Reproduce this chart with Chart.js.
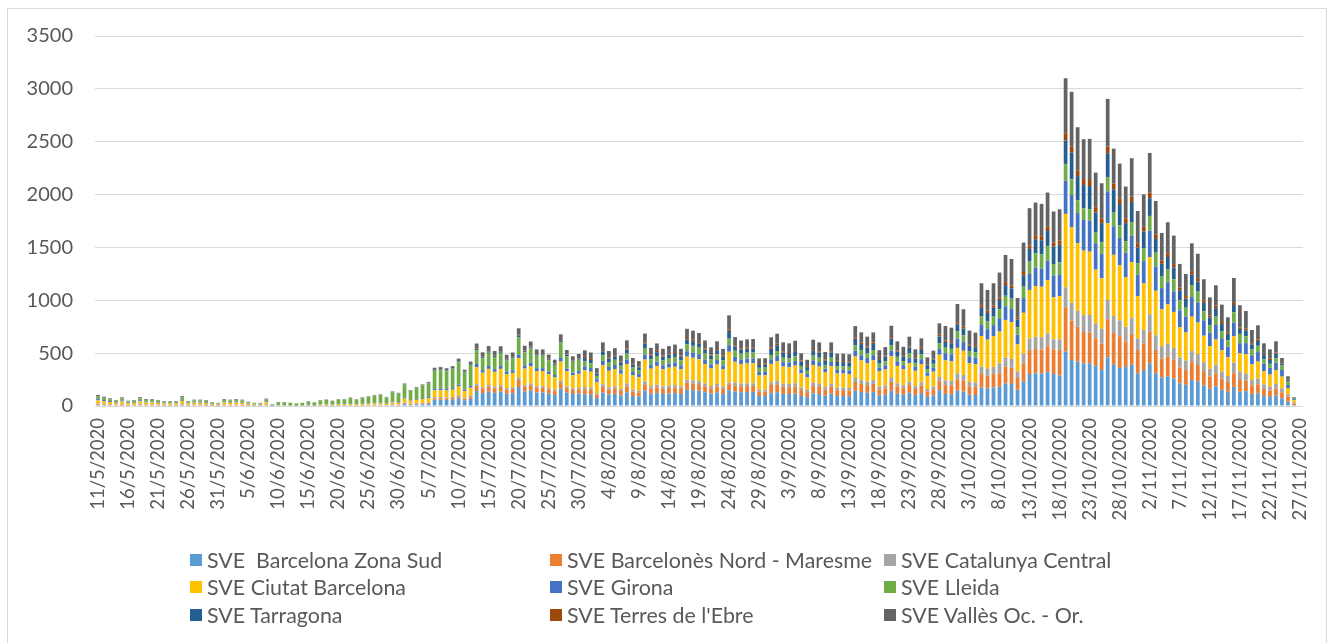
<!DOCTYPE html>
<html><head><meta charset="utf-8">
<script src="https://cdn.jsdelivr.net/npm/chart.js@4/dist/chart.umd.min.js"></script>
<style>
html,body{margin:0;padding:0;background:#fff;}
#wrap{position:relative;width:1335px;height:643px;overflow:hidden;}
#frame{position:absolute;left:7px;top:8px;width:1320px;height:660px;border:1px solid #D9D9D9;box-sizing:border-box;}
#c{position:absolute;left:0;top:0;}
.item{position:absolute;display:flex;align-items:center;white-space:pre;font-family:Lato,sans-serif;font-size:21.4px;color:#595959;line-height:24px;}
.sw{width:12px;height:12px;margin-right:5px;flex:none;}
</style></head>
<body><div id="wrap"><div id="frame"></div><canvas id="c" width="1335" height="643"></canvas><div id="legend"></div></div>
<script>
const categories = [
"11/5/2020","12/5/2020","13/5/2020","14/5/2020","15/5/2020","16/5/2020","17/5/2020","18/5/2020","19/5/2020","20/5/2020","21/5/2020","22/5/2020","23/5/2020","24/5/2020","25/5/2020","26/5/2020","27/5/2020","28/5/2020","29/5/2020","30/5/2020","31/5/2020",
"1/6/2020","2/6/2020","3/6/2020","4/6/2020","5/6/2020","6/6/2020","7/6/2020","8/6/2020","9/6/2020","10/6/2020","11/6/2020","12/6/2020","13/6/2020","14/6/2020","15/6/2020","16/6/2020","17/6/2020","18/6/2020","19/6/2020","20/6/2020","21/6/2020","22/6/2020","23/6/2020","24/6/2020","25/6/2020","26/6/2020","27/6/2020","28/6/2020","29/6/2020","30/6/2020",
"1/7/2020","2/7/2020","3/7/2020","4/7/2020","5/7/2020","6/7/2020","7/7/2020","8/7/2020","9/7/2020","10/7/2020","11/7/2020","12/7/2020","13/7/2020","14/7/2020","15/7/2020","16/7/2020","17/7/2020","18/7/2020","19/7/2020","20/7/2020","21/7/2020","22/7/2020","23/7/2020","24/7/2020","25/7/2020","26/7/2020","27/7/2020","28/7/2020","29/7/2020","30/7/2020","31/7/2020",
"1/8/2020","2/8/2020","3/8/2020","4/8/2020","5/8/2020","6/8/2020","7/8/2020","8/8/2020","9/8/2020","10/8/2020","11/8/2020","12/8/2020","13/8/2020","14/8/2020","15/8/2020","16/8/2020","17/8/2020","18/8/2020","19/8/2020","20/8/2020","21/8/2020","22/8/2020","23/8/2020","24/8/2020","25/8/2020","26/8/2020","27/8/2020","28/8/2020","29/8/2020","30/8/2020","31/8/2020",
"1/9/2020","2/9/2020","3/9/2020","4/9/2020","5/9/2020","6/9/2020","7/9/2020","8/9/2020","9/9/2020","10/9/2020","11/9/2020","12/9/2020","13/9/2020","14/9/2020","15/9/2020","16/9/2020","17/9/2020","18/9/2020","19/9/2020","20/9/2020","21/9/2020","22/9/2020","23/9/2020","24/9/2020","25/9/2020","26/9/2020","27/9/2020","28/9/2020","29/9/2020","30/9/2020",
"1/10/2020","2/10/2020","3/10/2020","4/10/2020","5/10/2020","6/10/2020","7/10/2020","8/10/2020","9/10/2020","10/10/2020","11/10/2020","12/10/2020","13/10/2020","14/10/2020","15/10/2020","16/10/2020","17/10/2020","18/10/2020","19/10/2020","20/10/2020","21/10/2020","22/10/2020","23/10/2020","24/10/2020","25/10/2020","26/10/2020","27/10/2020","28/10/2020","29/10/2020","30/10/2020","31/10/2020",
"1/11/2020","2/11/2020","3/11/2020","4/11/2020","5/11/2020","6/11/2020","7/11/2020","8/11/2020","9/11/2020","10/11/2020","11/11/2020","12/11/2020","13/11/2020","14/11/2020","15/11/2020","16/11/2020","17/11/2020","18/11/2020","19/11/2020","20/11/2020","21/11/2020","22/11/2020","23/11/2020","24/11/2020","25/11/2020","26/11/2020","27/11/2020"
];

const seriesNames = ["SVE  Barcelona Zona Sud","SVE Barcelonès Nord - Maresme","SVE Catalunya Central","SVE Ciutat Barcelona","SVE Girona","SVE Lleida","SVE Tarragona","SVE Terres de l'Ebre","SVE Vallès Oc. - Or."];
const seriesColors = ["#5B9BD5","#ED7D31","#A5A5A5","#FFC000","#4472C4","#70AD47","#255E91","#9E480E","#636363"];

const barcelonaZonaSud = [8,7,6,5,7,4,5,7,5,5,5,4,4,4,8,4,5,5,4,3,2,5,5,5,5,3,2,2,6,
1,2,2,2,1,2,2,2,3,3,3,3,3,4,3,4,5,5,6,4,7,6,
17,12,14,16,18,58,59,57,60,72,55,67,
142,122,136,125,136,116,121,180,137,146,128,128,117,105,163,127,113,118,
111,106,75,126,109,115,100,130,95,89,144,116,124,114,119,122,114,153,150,145,130,117,129,113,150,137,130,132,133,95,95,120,
130,114,113,117,95,83,119,114,97,116,94,95,93,144,132,125,132,100,106,144,116,106,125,102,122,87,100,149,
114,111,145,137,107,104,174,165,176,183,214,209,153,232,303,308,306,323,
303,290,514,435,420,400,404,380,340,460,390,360,370,390,310,340,404,
310,270,280,260,215,200,245,233,195,165,183,153,134,180,136,140,115,120,95,86,98,73,41,10,0];

const barcelonesNord = [8,7,6,5,7,4,4,7,5,6,4,4,4,3,7,4,5,5,5,3,2,5,5,5,5,3,2,2,5,
0,1,1,1,1,1,1,1,2,2,1,2,2,2,2,3,3,3,3,3,4,4,
9,6,7,8,9,14,15,14,15,18,14,17,
47,41,45,42,45,39,40,66,46,49,43,43,39,35,54,42,38,39,
47,46,32,54,47,49,43,56,41,38,62,50,53,49,51,52,49,66,64,62,56,50,55,49,56,59,56,57,57,41,41,79,
75,66,65,68,55,48,69,66,56,65,54,55,54,83,77,72,77,58,61,83,67,62,72,59,70,51,58,86,
83,82,106,101,78,76,128,121,126,126,157,153,112,170,227,231,229,242,
233,240,420,372,330,300,290,260,250,360,300,300,240,290,220,250,300,
220,180,190,180,150,140,170,155,135,115,126,105,92,130,110,100,80,85,66,60,67,57,47,15,0];

const catalunyaCentral = [8,7,6,5,6,4,5,7,5,5,5,4,4,4,8,4,5,5,5,3,3,5,5,5,5,3,3,2,6,
1,2,1,1,1,1,2,1,2,2,2,3,3,3,3,3,4,4,4,3,6,5,
6,5,5,6,7,11,11,11,11,13,10,13,
18,15,17,16,17,15,15,22,17,18,16,16,15,13,20,16,14,15,
21,20,14,24,21,22,19,25,18,17,27,22,24,22,23,23,22,29,28,28,25,22,24,22,15,26,25,25,25,18,18,25,
34,30,30,31,25,22,31,30,26,29,25,24,24,38,35,33,35,26,28,38,31,28,33,27,32,23,26,39,
45,44,58,55,43,42,70,66,68,95,86,83,61,93,107,115,115,121,
95,100,189,170,150,160,167,140,140,183,160,150,140,150,110,130,164,
140,115,120,110,95,90,105,104,85,72,80,67,59,100,79,65,50,55,42,38,43,38,25,10,0];

const ciutatBarcelona = [29,25,20,16,23,14,16,24,18,18,16,13,13,13,26,13,17,17,16,10,8,18,16,18,16,11,8,8,19,
2,5,5,4,3,4,5,4,7,7,6,8,8,10,8,10,11,13,13,10,17,15,
38,27,32,37,41,65,66,64,68,81,62,76,
160,137,153,140,153,131,137,184,154,165,144,144,131,118,183,143,127,133,
158,152,107,181,156,164,143,186,136,128,206,165,178,162,170,174,162,219,214,207,186,166,184,162,292,196,186,189,190,135,136,174,
185,163,160,167,134,118,169,163,138,165,134,133,132,204,188,177,188,143,150,205,165,151,177,145,173,124,141,211,
189,185,241,229,178,174,290,275,292,300,357,348,256,387,461,481,478,505,
397,410,694,713,640,610,599,510,480,726,580,520,470,530,400,440,539,
420,350,370,340,285,265,325,297,250,215,240,201,176,250,174,185,150,160,125,113,129,110,54,20,0];

const girona = [12,11,9,7,10,6,7,10,8,8,7,6,5,6,11,6,7,7,7,5,4,8,7,8,7,5,4,4,8,
1,2,2,2,1,1,2,2,3,3,2,3,3,4,3,4,5,5,6,4,7,6,
9,6,7,8,9,14,15,14,15,18,14,17,
30,25,28,26,28,24,25,32,29,31,27,27,24,22,34,27,24,25,
37,35,25,42,36,38,33,43,32,30,48,39,41,38,40,41,38,51,50,48,43,39,43,38,62,46,43,44,44,32,32,44,
48,42,42,43,35,31,44,42,36,41,35,34,34,53,49,46,49,37,39,53,43,39,46,38,45,32,37,55,
68,67,87,82,64,62,104,99,103,126,129,125,92,139,151,173,172,182,
205,200,315,306,285,290,293,250,230,300,270,260,230,250,200,210,252,
230,200,210,195,160,150,185,189,145,125,137,115,101,130,95,105,85,90,71,64,73,63,32,10,0];

const lleida = [23,19,16,12,18,11,13,19,15,15,13,10,11,11,22,10,13,13,13,9,7,16,14,16,14,10,7,8,16,
10,25,25,21,17,20,30,24,36,41,33,43,43,52,43,53,59,68,72,56,90,81,
124,88,104,120,133,170,173,168,177,210,161,197,
130,112,125,114,124,106,111,165,125,134,118,118,107,96,149,117,103,108,
47,46,32,54,47,49,43,56,41,38,62,50,53,49,51,52,49,66,64,62,56,50,55,49,62,59,56,57,57,40,41,41,
48,42,42,43,35,31,44,42,36,41,35,35,34,53,49,46,49,37,39,53,43,39,46,37,45,32,37,55,
53,52,68,64,50,49,81,77,80,85,100,97,72,108,117,135,134,141,
110,120,158,148,120,110,107,100,110,132,130,120,110,130,110,120,139,
130,115,120,115,95,85,110,104,85,72,80,67,59,95,88,65,55,60,42,38,43,41,32,10,0];

const tarragona = [4,4,3,2,3,2,2,3,3,3,2,2,2,2,4,2,2,2,2,2,1,3,2,3,2,2,1,1,3,
0,1,1,0,0,0,1,1,1,1,1,1,2,2,1,2,2,2,2,2,3,3,
4,3,4,4,5,7,7,7,8,9,7,8,
12,10,11,10,11,10,10,16,11,12,11,11,10,9,14,11,9,10,
32,30,21,36,31,33,29,37,27,26,41,33,36,32,34,35,32,44,43,41,37,33,37,32,72,39,37,38,38,27,27,57,
55,48,47,49,40,35,50,48,41,48,40,39,39,60,56,52,56,42,45,61,49,45,52,43,51,37,42,63,
53,52,68,64,50,49,81,77,83,88,100,97,72,108,120,135,134,141,
164,165,221,252,230,220,221,190,180,230,220,200,170,190,150,160,167,
130,115,120,110,95,85,105,95,80,72,80,67,59,70,47,55,45,45,40,36,42,16,16,5,0];

const terresEbre = [2,2,1,1,2,1,1,2,1,1,1,1,1,1,2,1,1,1,1,1,1,1,1,1,1,1,1,1,1,
0,0,0,0,0,0,1,0,1,1,0,1,0,1,1,1,1,1,1,1,1,1,
2,1,1,2,2,4,4,4,4,4,3,4,
6,5,6,5,6,5,5,10,6,6,5,5,5,4,7,5,5,5,
11,10,7,12,10,11,10,12,9,9,14,11,12,11,11,12,11,15,14,14,12,11,12,11,16,13,12,13,13,9,9,13,
14,12,12,12,10,9,13,12,10,12,10,10,10,15,14,13,14,11,11,15,12,11,13,11,13,9,10,16,
15,15,19,18,14,14,23,22,23,22,29,28,20,31,32,38,38,40,
38,40,69,57,55,57,57,50,45,63,55,50,45,50,40,45,54,
40,32,35,32,27,25,30,25,24,20,23,19,17,20,13,18,14,15,12,11,12,6,3,2,0];

const valles = [10,6,6,4,6,4,4,6,6,5,4,3,3,3,7,3,5,5,4,2,2,5,5,5,5,3,2,2,6,
1,0,1,1,1,1,1,1,1,2,2,2,2,2,2,2,2,3,3,3,3,4,
4,3,4,4,4,19,18,18,19,23,17,21,
46,41,46,42,45,38,42,60,45,49,43,43,38,36,54,42,37,39,
63,61,45,73,63,66,58,76,55,50,81,64,71,64,68,70,64,87,85,83,75,67,73,64,132,77,75,75,76,53,53,97,
95,85,82,87,69,60,88,85,71,85,68,70,69,106,97,92,96,74,78,107,85,79,92,74,89,65,73,108,
137,133,173,165,129,124,210,196,210,237,257,251,184,278,353,308,306,324,
295,296,520,519,407,377,389,328,332,451,330,333,301,364,305,308,375,
320,260,293,270,222,209,264,238,200,172,193,165,142,236,211,166,125,133,100,90,105,50,31,3,0];

const yTicks = [0,500,1000,1500,2000,2500,3000,3500];

const seriesValues = [barcelonaZonaSud,barcelonesNord,catalunyaCentral,ciutatBarcelona,girona,lleida,tarragona,terresEbre,valles];

const FONT = 'Lato';
const datasets = seriesNames.map((name,k)=>({
  label:name, data:seriesValues[k], backgroundColor:seriesColors[k], borderWidth:0,
  categoryPercentage:1.0, barPercentage:0.62
}));

new Chart(document.getElementById('c'),{
  type:'bar',
  data:{labels:categories,datasets},
  options:{
    responsive:false, animation:false,
    layout:{padding:{top:36,right:32,bottom:0,left:0}},
    plugins:{legend:{display:false},tooltip:{enabled:false}},
    scales:{
      x:{stacked:true,
         grid:{display:false,drawTicks:false},
         border:{display:false},
         ticks:{autoSkip:false,minRotation:90,maxRotation:90,padding:12,color:'#595959',
                font:{family:FONT,size:18.5},
                callback:(v,i)=> (i%5===0 ? categories[i] : '')},
         afterFit:s=>{s.height=237;}
      },
      y:{stacked:true,min:0,max:3500,
         afterBuildTicks:s=>{s.ticks=yTicks.map(v=>({value:v}));},
         grid:{color:'#D9D9D9',lineWidth:1,drawTicks:false},
         border:{display:false},
         ticks:{padding:22,color:'#595959',font:{family:FONT,size:20},callback:v=>String(v)},
         afterFit:s=>{s.width=95;}
      }
    }
  }
});

const legendPos = [[190,560],[550,560],[884,560],[190,587],[550,587],[884,587],[190,615],[550,615],[884,615]];
const leg = document.getElementById('legend');
seriesNames.forEach((name,k)=>{
  const d=document.createElement('div'); d.className='item';
  d.style.left=legendPos[k][0]+'px'; d.style.top=(legendPos[k][1]-12)+'px';
  const s=document.createElement('span'); s.className='sw'; s.style.background=seriesColors[k];
  const t=document.createElement('span'); t.textContent=name;
  d.appendChild(s); d.appendChild(t); leg.appendChild(d);
});
</script></body></html>
